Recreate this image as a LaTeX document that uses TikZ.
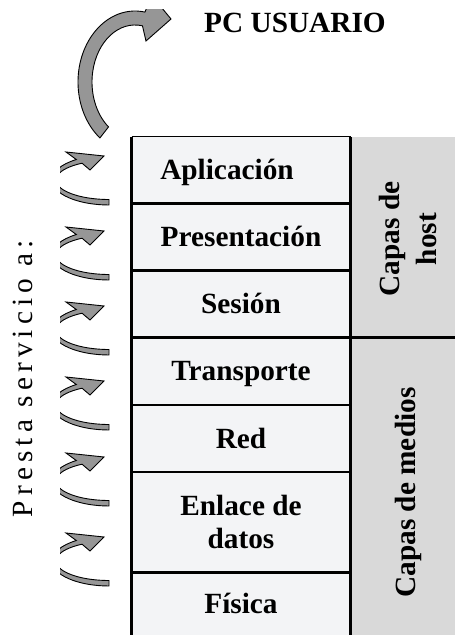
\documentclass[tikz,border=0pt]{standalone}
\usepackage{fontspec}
\setmainfont{Liberation Serif}
\usetikzlibrary{positioning}
\definecolor{cellfill}{RGB}{243,244,246}
\definecolor{sidefill}{RGB}{217,217,217}
\definecolor{arrowgray}{RGB}{150,150,150}
\tikzset{
    % table cells and side columns
    cell/.style={
        rectangle, fill=cellfill, minimum width=219pt, outer sep=0pt, inner sep=0pt,
        font=\fontsize{29.3}{33}\selectfont\bfseries
    },
    capline/.style={text height=19.4pt, text depth=0pt},
    sideblock/.style={
        rectangle, fill=sidefill, minimum width=104.5pt, outer sep=0pt, inner sep=0pt,
        anchor=north west
    },
    sidetext/.style={
        rotate=90, inner sep=0pt, font=\fontsize{29.3}{37}\selectfont\bfseries, align=center
    },
    rule/.style={line width=2.6pt},
    curvearrow/.style={fill=arrowgray, draw=black, line width=0.9pt, line join=miter}
}

\begin{document}
\begin{tikzpicture}[x=1pt, y=1pt]
\useasboundingbox (0,0) rectangle (455,635);

% OSI layers
\node[cell, capline, minimum height=66.5pt] (apl) at (241,464.75) {Aplicación\hspace*{28pt}};
\node[cell, capline, minimum height=67pt, below=0pt of apl] (pres) {Presentación};
\node[cell, capline, minimum height=67pt, below=0pt of pres] (ses) {Sesión};
\node[cell, capline, minimum height=67.5pt, below=0pt of ses] (trans) {Transporte};
\node[cell, capline, minimum height=67pt, below=0pt of trans] (red) {Red};
\node[cell, align=center, minimum height=100.5pt, below=0pt of red] (enl) {Enlace de\\datos};
\node[cell, capline, minimum height=62.5pt, below=0pt of enl] (fis) {Física};

% side groups
\node[sideblock, minimum height=200.5pt] (hostcol) at (apl.north east) {};
\node[sideblock, minimum height=297.5pt] (mediacol) at (trans.north east) {};
\node[sidetext] (hostlbl) at (407.5,396) {Capas de\\host};
\node[sidetext, anchor=base] (medioslbl) at (415.5,142.5) {Capas de medios};

% rules
\draw[line width=1pt] (apl.north west) -- (apl.north east);
\draw[rule] (apl.north west) -- (fis.south west);
\draw[rule] (apl.north east) -- (fis.south east);
\foreach \c in {apl,pres,trans,red,enl}
    \draw[rule] (\c.south west) -- (\c.south east);
\draw[rule] (ses.south west) -- (hostcol.south east);

% titles
\node[font=\fontsize{29.3}{33}\selectfont\bfseries, anchor=base] (pc) at (295,602.7) {PC USUARIO};
\node[rotate=90, anchor=base, inner sep=0pt,
      font=\fontsize{29.3}{31}\selectfont\addfontfeature{LetterSpace=17.5}] (presta) at (32,256.5) {Presta servicio a:};

% small service arrows
\begin{scope}
\clip (60,0) rectangle (131,500);
\foreach \y in {74,154,230,305,380,455}
    \filldraw[curvearrow, shift={(109,\y)}]
        (270:57pt and 25pt) arc[start angle=270, end angle=125, x radius=57pt, y radius=25pt]
        -- (-43,28) -- (-5,24) -- (-19,10)
        -- (120.6:53pt and 19.5pt) arc[start angle=120.6, end angle=270, x radius=53pt, y radius=19.5pt]
        -- cycle;
\end{scope}

% big arrow up to the user PC
\begin{scope}
\clip (0,0) rectangle (455,625);
\filldraw[curvearrow, shift={(135,553)}]
    (232:57pt and 71pt) arc[start angle=232, end angle=80, x radius=57pt, y radius=71pt]
    -- (17,86) -- (36,63) -- (11,41)
    -- (80:43pt and 57pt) arc[start angle=80, end angle=232, x radius=43pt, y radius=57pt]
    -- cycle;
\end{scope}

\end{tikzpicture}
\end{document}
